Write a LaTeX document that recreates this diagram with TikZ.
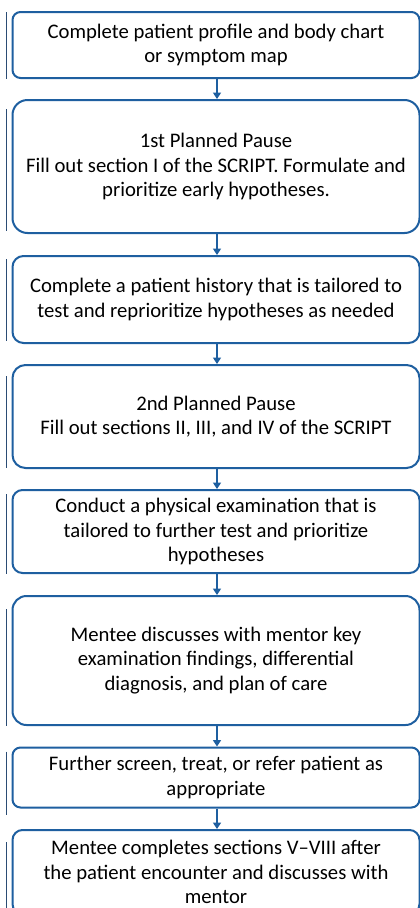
\documentclass[tikz,border=0pt]{standalone}
\usepackage{fontspec}
\setmainfont{Carlito}
\usetikzlibrary{arrows.meta}
\definecolor{boxblue}{HTML}{1E5FA0}
\definecolor{sidecol}{HTML}{2B4C74}
\begin{document}
\begin{tikzpicture}[x=1pt,y=-1pt,
  stepbox/.style={draw=boxblue, line width=2pt, fill=white, minimum width=407pt,
    align=center, inner sep=0pt, font=\fontsize{20.7}{24.3}\selectfont},
  flow/.style={draw=boxblue, line width=1.6pt, -{Triangle[width=8pt,length=6.5pt]}},
  sideline/.style={draw=sidecol, line width=1.1pt}]
\useasboundingbox[fill=white] (0,0) rectangle (420,908);
\node[stepbox, minimum height=66pt, rounded corners=8pt] (b1) at (216,45)
  {Complete patient profile and body chart\\or symptom map};
\node[stepbox, minimum height=133pt, rounded corners=15pt] (b2) at (216,166.5)
  {1st Planned Pause\\Fill out section I of the SCRIPT. Formulate and\\prioritize early hypotheses.};
\node[stepbox, minimum height=87pt, rounded corners=11pt] (b3) at (216,299.5)
  {Complete a patient history that is tailored to\\test and reprioritize hypotheses as needed};
\node[stepbox, minimum height=103pt, rounded corners=13pt] (b4) at (216,416.5)
  {2nd Planned Pause\\Fill out sections II, III, and IV of the SCRIPT};
\node[stepbox, minimum height=83pt, rounded corners=10pt] (b5) at (216,531.5)
  {Conduct a physical examination that is\\tailored to further test and prioritize\\hypotheses};
\node[stepbox, minimum height=129pt, rounded corners=14pt] (b6) at (216,660.5)
  {Mentee discusses with mentor key\\examination findings, differential\\diagnosis, and plan of care};
\node[stepbox, minimum height=60pt, rounded corners=8pt] (b7) at (216,777.5)
  {Further screen, treat, or refer patient as\\appropriate};
\node[stepbox, minimum height=84pt, rounded corners=10pt] (b8) at (216,872)
  {Mentee completes sections V--VIII after\\the patient encounter and discusses with\\mentor};
\foreach \a/\b in {b1/b2,b2/b3,b3/b4,b4/b5,b5/b6,b6/b7,b7/b8}
  \draw[flow] ([xshift=1pt]\a.south) -- ([xshift=1pt]\b.north);
\foreach \n/\t/\u in {b1/1/0,b2/10/3,b3/4/3,b4/12/1,b5/5/0,b6/14/0,b7/5/-6,b8/13/-10}
  \draw[sideline] ([xshift=-5pt,yshift=-\t pt]\n.north west) -- ([xshift=-5pt,yshift=\u pt]\n.south west);
\end{tikzpicture}
\end{document}
